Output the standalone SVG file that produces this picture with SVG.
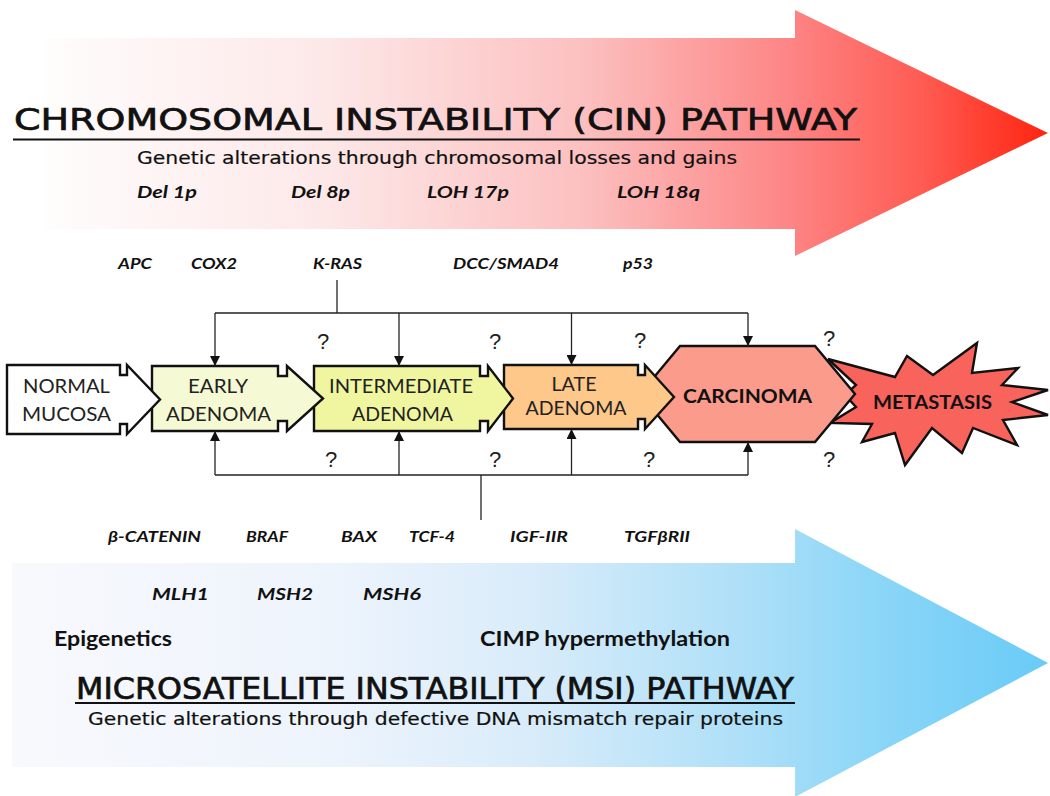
<svg xmlns="http://www.w3.org/2000/svg" width="1050" height="796" viewBox="0 0 1050 796">
  <defs>
    <linearGradient id="gRed" gradientUnits="userSpaceOnUse" x1="12" y1="0" x2="1048" y2="0">
      <stop offset="0" stop-color="#ffffff"/>
      <stop offset="0.3" stop-color="#fde8e8"/>
      <stop offset="0.55" stop-color="#fcc0c0"/>
      <stop offset="0.75" stop-color="#fd8585"/>
      <stop offset="0.88" stop-color="#ff5b52"/>
      <stop offset="1" stop-color="#ff2410"/>
    </linearGradient>
    <linearGradient id="gBlue" gradientUnits="userSpaceOnUse" x1="12" y1="0" x2="1048" y2="0">
      <stop offset="0" stop-color="#f8f9fd"/>
      <stop offset="0.3" stop-color="#eef4fc"/>
      <stop offset="0.5" stop-color="#d9ecfa"/>
      <stop offset="0.7" stop-color="#afe0f8"/>
      <stop offset="0.85" stop-color="#88d5f7"/>
      <stop offset="1" stop-color="#69cbf7"/>
    </linearGradient>
    <marker id="ah" markerUnits="userSpaceOnUse" markerWidth="10" markerHeight="10" refX="10" refY="5" orient="auto">
      <path d="M0,0 L10,5 L0,10 Z" fill="#111"/>
    </marker>
    <style>
      .node { stroke: #111; stroke-width: 2.4; stroke-linejoin: miter; }
      .nl { font-family: Lato, "Open Sans", sans-serif; font-size: 20px; fill: #222; text-anchor: middle; }
      .nb { font-family: Lato, "Open Sans", sans-serif; font-size: 19px; font-weight: bold; fill: #111; text-anchor: middle; }
      .gene { font-family: Lato, "Open Sans", sans-serif; font-size: 16px; font-weight: bold; font-style: italic; fill: #111; }
      .big { font-family: Lato, "Open Sans", sans-serif; font-size: 17px; font-weight: bold; font-style: italic; fill: #111; }
      .title { font-family: "DejaVu Sans", Verdana, sans-serif; font-size: 30px; fill: #111; stroke: #111; stroke-width: 0.7; }
      .sub { font-family: "DejaVu Sans", Verdana, sans-serif; font-size: 18px; fill: #111; stroke: #111; stroke-width: 0.2; }
      .epi { font-family: Lato, "Open Sans", sans-serif; font-size: 20px; font-weight: bold; fill: #111; }
      .q { font-family: "Liberation Sans", Arial, sans-serif; font-size: 22px; fill: #222; text-anchor: middle; }
      .conn { fill: none; stroke: #222; stroke-width: 1.3; }
    </style>
  </defs>

  <g id="cin-pathway">
    <path d="M45,38 H795 V10 L1048,133 L795,256 V229 H45 Z" fill="url(#gRed)"/>
    <text class="title" x="14" y="130" textLength="843" lengthAdjust="spacingAndGlyphs">CHROMOSOMAL INSTABILITY (CIN) PATHWAY</text>
    <line x1="13" y1="139.5" x2="860" y2="139.5" stroke="#111" stroke-width="2"/>
    <text class="sub" x="137" y="164" textLength="600" lengthAdjust="spacingAndGlyphs">Genetic alterations through chromosomal losses and gains</text>
    <text class="big" x="137" y="198" textLength="60" lengthAdjust="spacingAndGlyphs">Del 1p</text>
    <text class="big" x="291" y="198" textLength="59" lengthAdjust="spacingAndGlyphs">Del 8p</text>
    <text class="big" x="427" y="198" textLength="82" lengthAdjust="spacingAndGlyphs">LOH 17p</text>
    <text class="big" x="617" y="198" textLength="83" lengthAdjust="spacingAndGlyphs">LOH 18q</text>
  </g>

  <g id="msi-pathway">
    <path d="M12,563 H795 V529 L1048,663 L795,797 V767 H12 Z" fill="url(#gBlue)"/>
    <text class="big" x="152" y="600" textLength="57" lengthAdjust="spacingAndGlyphs">MLH1</text>
    <text class="big" x="257" y="600" textLength="56" lengthAdjust="spacingAndGlyphs">MSH2</text>
    <text class="big" x="363" y="600" textLength="58" lengthAdjust="spacingAndGlyphs">MSH6</text>
    <text class="epi" x="54" y="646" textLength="118" lengthAdjust="spacingAndGlyphs">Epigenetics</text>
    <text class="epi" x="480" y="646" textLength="250" lengthAdjust="spacingAndGlyphs">CIMP hypermethylation</text>
    <text class="title" x="76" y="699" font-size="29" textLength="718" lengthAdjust="spacingAndGlyphs">MICROSATELLITE INSTABILITY (MSI) PATHWAY</text>
    <line x1="75" y1="703" x2="795" y2="703" stroke="#111" stroke-width="2"/>
    <text class="sub" x="88" y="725" textLength="695" lengthAdjust="spacingAndGlyphs">Genetic alterations through defective DNA mismatch repair proteins</text>
  </g>

  <g id="genes-top">
    <text class="gene" x="118" y="269" textLength="34" lengthAdjust="spacingAndGlyphs">APC</text>
    <text class="gene" x="191" y="269" textLength="46" lengthAdjust="spacingAndGlyphs">COX2</text>
    <text class="gene" x="313" y="269" textLength="49" lengthAdjust="spacingAndGlyphs">K-RAS</text>
    <text class="gene" x="453" y="269" textLength="106" lengthAdjust="spacingAndGlyphs">DCC/SMAD4</text>
    <text class="gene" x="623" y="269" textLength="30" lengthAdjust="spacingAndGlyphs">p53</text>
  </g>

  <g id="genes-bottom">
    <text class="gene" x="108" y="542" textLength="93" lengthAdjust="spacingAndGlyphs">β-CATENIN</text>
    <text class="gene" x="246" y="542" textLength="42" lengthAdjust="spacingAndGlyphs">BRAF</text>
    <text class="gene" x="341" y="542" textLength="36" lengthAdjust="spacingAndGlyphs">BAX</text>
    <text class="gene" x="409" y="542" textLength="46" lengthAdjust="spacingAndGlyphs">TCF-4</text>
    <text class="gene" x="510" y="542" textLength="58" lengthAdjust="spacingAndGlyphs">IGF-IIR</text>
    <text class="gene" x="624" y="542" textLength="66" lengthAdjust="spacingAndGlyphs">TGFβRII</text>
  </g>

  <g id="metastasis">
    <polygon class="node" fill="#f8635b" stroke-width="2" points="828,359 895,377 907,356 933,375 977,343 972,373 1018,368 1002,385 1048,390 1012,402 1048,415 1003,420 1017,445 973,428 962,453 932,428 905,465 895,433 862,442 872,424 830,423 856,407 845,395 856,385"/>
    <text class="nb" x="932.5" y="409" textLength="119" lengthAdjust="spacingAndGlyphs">METASTASIS</text>
  </g>

  <g id="carcinoma">
    <polygon class="node" fill="#fa9b8b" points="640,394 680,346 815,346 855,394 815,442 680,442"/>
    <text class="nb" x="747.5" y="403" textLength="129" lengthAdjust="spacingAndGlyphs">CARCINOMA</text>
  </g>

  <g id="late-adenoma">
    <polygon class="node" fill="#fdc889" points="504,365 638,365 638,375 645,375 645,365 674,397 645,429 645,419 638,419 638,429 504,429"/>
    <text class="nl" x="574" y="390.5" textLength="45" lengthAdjust="spacingAndGlyphs">LATE</text>
    <text class="nl" x="576" y="415" textLength="101" lengthAdjust="spacingAndGlyphs">ADENOMA</text>
  </g>

  <g id="intermediate-adenoma">
    <polygon class="node" fill="#f0f6a0" points="314,366 480,366 480,376 488,376 488,366 513,398.5 488,431 488,421 480,421 480,431 314,431"/>
    <text class="nl" x="401" y="393" textLength="144" lengthAdjust="spacingAndGlyphs">INTERMEDIATE</text>
    <text class="nl" x="402.5" y="421" textLength="101" lengthAdjust="spacingAndGlyphs">ADENOMA</text>
  </g>

  <g id="early-adenoma">
    <polygon class="node" fill="#f5f9d4" points="152,366 278,366 278,376 287,376 287,366 323,398.5 287,431 287,421 278,421 278,431 152,431"/>
    <text class="nl" x="218" y="393" textLength="60" lengthAdjust="spacingAndGlyphs">EARLY</text>
    <text class="nl" x="218.5" y="421" textLength="105" lengthAdjust="spacingAndGlyphs">ADENOMA</text>
  </g>

  <g id="normal-mucosa">
    <polygon class="node" fill="#ffffff" points="7,365 120,365 120,375 127,375 127,365 160,399.5 127,434 127,424 120,424 120,434 7,434"/>
    <text class="nl" x="66.5" y="393" textLength="87" lengthAdjust="spacingAndGlyphs">NORMAL</text>
    <text class="nl" x="66.5" y="421" textLength="89" lengthAdjust="spacingAndGlyphs">MUCOSA</text>
  </g>

  <g id="connectors">
    <path class="conn" d="M337,280 V313"/>
    <path class="conn" d="M215,313 H748"/>
    <path class="conn" d="M215,313 V366" marker-end="url(#ah)"/>
    <path class="conn" d="M399,313 V366" marker-end="url(#ah)"/>
    <path class="conn" d="M571.5,313 V365" marker-end="url(#ah)"/>
    <path class="conn" d="M748,313 V346" marker-end="url(#ah)"/>
    <path class="conn" d="M481,520 V475"/>
    <path class="conn" d="M215,475 H748"/>
    <path class="conn" d="M215,475 V431" marker-end="url(#ah)"/>
    <path class="conn" d="M399,475 V431" marker-end="url(#ah)"/>
    <path class="conn" d="M571.5,475 V429" marker-end="url(#ah)"/>
    <path class="conn" d="M748,475 V442" marker-end="url(#ah)"/>
  </g>

  <g id="question-marks">
    <text class="q" x="323" y="348.5">?</text>
    <text class="q" x="495" y="348.5">?</text>
    <text class="q" x="640" y="347.5">?</text>
    <text class="q" x="829" y="345.5">?</text>
    <text class="q" x="331" y="467">?</text>
    <text class="q" x="495" y="467">?</text>
    <text class="q" x="649" y="467">?</text>
    <text class="q" x="829" y="467">?</text>
  </g>
</svg>
